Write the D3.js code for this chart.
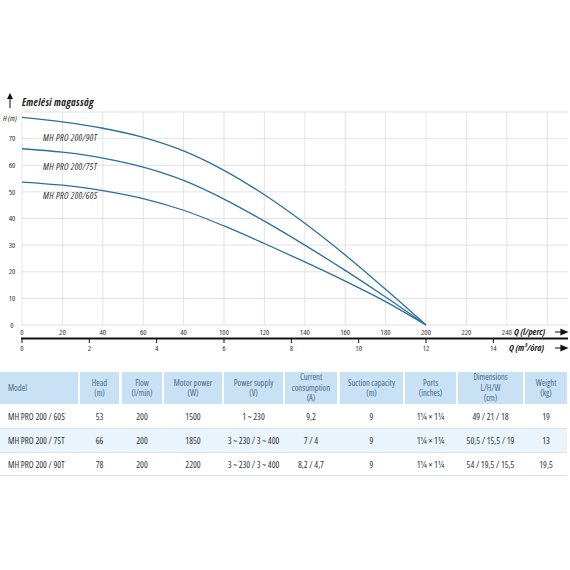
<!DOCTYPE html>
<html>
<head>
<meta charset="utf-8">
<script src="https://cdn.jsdelivr.net/npm/d3@7"></script>
<style>
  body { margin: 0; background: #fff; }
  svg text { font-family: "Open Sans", sans-serif; font-stretch: 75%; }
</style>
</head>
<body>
<div class="chart"></div>
<script>
// flow in l/min, head in m
const flow = [0, 20, 40, 60, 80, 100, 120, 140, 160, 180, 200];
const head90T = [78, 76.3, 73.9, 70.5, 65.4, 58.1, 48.9, 38.2, 26.3, 13.4, 0];
const head75T = [66.2, 64.9, 62.7, 59.3, 54.3, 47.3, 39.0, 30.0, 20.5, 10.5, 0];
const head60S = [53.7, 52.5, 50.5, 47.5, 43.1, 37.2, 30.6, 23.7, 16.5, 8.8, 0];
const seriesNames = ["MH PRO 200/90T", "MH PRO 200/75T", "MH PRO 200/60S"];
const seriesLabelH = [70.5, 59.6, 48.4];

const yTicks = [0, 10, 20, 30, 40, 50, 60, 70];
const xTicks = [0, 20, 40, 60, 80, 100, 120, 140, 160, 180, 200, 220, 240];
const xTickLabels = ["0", "20", "40", "60", "40", "100", "120", "140", "160", "180", "200", "220", "240"];
const m3Ticks = [0, 2, 4, 6, 8, 10, 12, 14];

const headers = [
  ["Model"], ["Head", "(m)"], ["Flow", "(l/min)"], ["Motor power", "(W)"],
  ["Power supply", "(V)"], ["Current", "consumption", "(A)"], ["Suction capacity", "(m)"],
  ["Ports", "(inches)"], ["Dimensions", "L/H/W", "(cm)"], ["Weight", "(kg)"]
];
const rows = [
  ["MH PRO 200 / 60S", "53", "200", "1500", "1 ~ 230", "9,2", "9", "1¼ × 1¼", "49 / 21 / 18", "19"],
  ["MH PRO 200 / 75T", "66", "200", "1850", "3 ~ 230 / 3 ~ 400", "7 / 4", "9", "1¼ × 1¼", "50,5 / 15,5 / 19", "13"],
  ["MH PRO 200 / 90T", "78", "200", "2200", "3 ~ 230 / 3 ~ 400", "8,2 / 4,7", "9", "1¼ × 1¼", "54 / 19,5 / 15,5", "19,5"]
];

const svg = d3.select(".chart").append("svg")
  .attr("width", 570)
  .attr("height", 570);

const x = d3.scaleLinear().domain([0, 200]).range([22, 426]);
const x2 = d3.scaleLinear().domain([0, 12]).range([22, 426]);
const y = d3.scaleLinear().domain([0, 80]).range([325, 112]);

// grid
svg.append("g").selectAll("line")
  .data(d3.range(0, 261, 20))
  .join("line")
  .attr("x1", d => x(d)).attr("x2", d => x(d))
  .attr("y1", y(0)).attr("y2", y(80))
  .attr("stroke", "#dcdcdc").attr("stroke-width", 0.8);

svg.append("g").selectAll("line")
  .data(d3.range(0, 81, 10))
  .join("line")
  .attr("x1", x(0)).attr("x2", 568)
  .attr("y1", d => y(d)).attr("y2", d => y(d))
  .attr("stroke", "#dcdcdc").attr("stroke-width", 0.8);

// curves
const line = d3.line()
  .x((d, i) => x(flow[i]))
  .y(d => y(d))
  .curve(d3.curveCatmullRom.alpha(0.5));

svg.append("g").selectAll("path")
  .data([head90T, head75T, head60S])
  .join("path")
  .attr("d", line)
  .attr("fill", "none")
  .attr("stroke", "#2d6f9f")
  .attr("stroke-width", 1.3);

svg.append("g").selectAll("text")
  .data(seriesNames)
  .join("text")
  .attr("x", 43)
  .attr("y", (d, i) => y(seriesLabelH[i]))
  .attr("dy", "0.35em")
  .attr("font-size", 9.2)
  .attr("letter-spacing", 0.35)
  .attr("font-style", "italic")
  .attr("fill", "#333")
  .text(d => d);

// y labels
svg.append("g").selectAll("text")
  .data(yTicks)
  .join("text")
  .attr("x", 12)
  .attr("y", d => y(d))
  .attr("dy", "0.35em")
  .attr("text-anchor", "middle")
  .attr("font-size", 7.8)
  .attr("fill", "#333")
  .text(d => d);

svg.append("text")
  .attr("x", 3).attr("y", 118).attr("dy", "0.35em")
  .attr("font-size", 7.8).attr("font-style", "italic").attr("fill", "#222")
  .text("H (m)");

// y axis title with arrow
svg.append("line")
  .attr("x1", 10).attr("x2", 10).attr("y1", 108).attr("y2", 97)
  .attr("stroke", "#111").attr("stroke-width", 1);
svg.append("path")
  .attr("d", "M7,99 L10,93 L13,99 Z").attr("fill", "#111");
svg.append("text")
  .attr("x", 22).attr("y", 102).attr("dy", "0.35em")
  .attr("font-size", 10.3).attr("letter-spacing", 0.3)
  .attr("font-style", "italic").attr("font-weight", "bold").attr("fill", "#222")
  .text("Emelési magasság");

// l/min labels
svg.append("g").selectAll("text")
  .data(xTicks)
  .join("text")
  .attr("x", d => x(d))
  .attr("y", 332)
  .attr("dy", "0.35em")
  .attr("text-anchor", "middle")
  .attr("font-size", 7.8)
  .attr("fill", "#333")
  .text((d, i) => xTickLabels[i]);

// m3/h axis
svg.append("line")
  .attr("x1", 21).attr("x2", 568).attr("y1", 338.5).attr("y2", 338.5)
  .attr("stroke", "#111").attr("stroke-width", 2);
svg.append("g").selectAll("line")
  .data(m3Ticks)
  .join("line")
  .attr("x1", d => x2(d)).attr("x2", d => x2(d))
  .attr("y1", 338).attr("y2", 343)
  .attr("stroke", "#111").attr("stroke-width", 1);
svg.append("g").selectAll("text")
  .data(m3Ticks)
  .join("text")
  .attr("x", d => x2(d))
  .attr("y", 348)
  .attr("dy", "0.35em")
  .attr("text-anchor", "middle")
  .attr("font-size", 7.8)
  .attr("fill", "#333")
  .text(d => d);

// axis names with arrows
const axisNames = [{ t: "Q (l/perc)", x: 514, y: 332 }, { t: "Q (m³/óra)", x: 509, y: 348 }];
svg.append("g").selectAll("text")
  .data(axisNames)
  .join("text")
  .attr("x", d => d.x).attr("y", d => d.y).attr("dy", "0.35em")
  .attr("font-size", 9.2).attr("font-style", "italic").attr("font-weight", "bold").attr("fill", "#222")
  .text(d => d.t);
svg.append("g").selectAll("path")
  .data(axisNames)
  .join("path")
  .attr("d", d => `M555,${d.y} L562,${d.y} M561,${d.y - 2.5} L567,${d.y} L561,${d.y + 2.5} Z`)
  .attr("stroke", "#111").attr("stroke-width", 1.2).attr("fill", "#111");

// table
const cols = [[0, 78], [80, 119], [122, 162], [164, 222], [224, 283], [285, 337], [340, 403], [405, 456], [458, 523], [525, 567]];
const headTop = 372, headBottom = 404;
const rowTops = [405, 429, 453], rowH = 23;

const table = svg.append("g");
table.selectAll("rect.head")
  .data(cols)
  .join("rect")
  .attr("class", "head")
  .attr("x", d => d[0]).attr("y", headTop)
  .attr("width", d => d[1] - d[0]).attr("height", headBottom - headTop)
  .attr("fill", "#c8e1f4");

table.append("rect")
  .attr("x", 0).attr("y", rowTops[1]).attr("width", 567).attr("height", rowH)
  .attr("fill", "#eaf4fc");

table.selectAll("line.sep")
  .data([rowTops[1] - 0.5, rowTops[2] - 0.5, rowTops[2] + rowH - 0.5])
  .join("line")
  .attr("class", "sep")
  .attr("x1", 0).attr("x2", 567)
  .attr("y1", d => d).attr("y2", d => d)
  .attr("stroke", "#dde3e8").attr("stroke-width", 1);

headers.forEach((h, c) => {
  const cx = c === 0 ? 8 : (cols[c][0] + cols[c][1]) / 2;
  const mid = (headTop + headBottom) / 2;
  h.forEach((ln, k) => {
    table.append("text")
      .attr("x", cx)
      .attr("y", mid + (k - (h.length - 1) / 2) * 10.5)
      .attr("dy", "0.35em")
      .attr("text-anchor", c === 0 ? "start" : "middle")
      .attr("font-size", 8.5)
      .attr("fill", "#4b6a88")
      .text(ln);
  });
});

rows.forEach((r, i) => {
  r.forEach((v, c) => {
    table.append("text")
      .attr("x", c === 0 ? 8 : (cols[c][0] + cols[c][1]) / 2)
      .attr("y", rowTops[i] + rowH / 2)
      .attr("dy", "0.35em")
      .attr("text-anchor", c === 0 ? "start" : "middle")
      .attr("font-size", 9)
      .attr("fill", "#333")
      .text(v);
  });
});
</script>
</body>
</html>
